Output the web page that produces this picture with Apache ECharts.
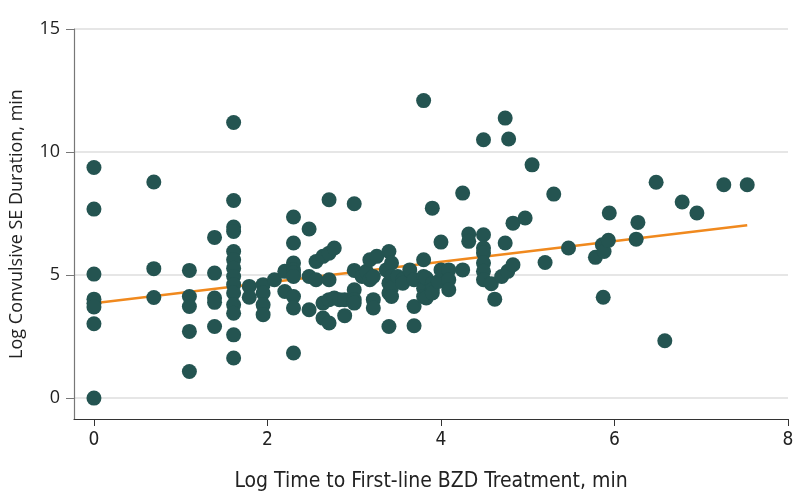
<!DOCTYPE html>
<html>
<head>
<meta charset="utf-8">
<script src="https://cdn.jsdelivr.net/npm/echarts@6/dist/echarts.min.js"></script>
<style>
  html, body { margin: 0; padding: 0; background: #ffffff; }
  #chart { width: 798px; height: 504px; }
</style>
</head>
<body>
<div id="chart"></div>
<script>
// Log time to first-line BZD treatment (x columns) and the log convulsive SE durations seen at each
const timeColumns = [0, 0.69, 1.10, 1.39, 1.61, 1.79, 1.95, 2.08, 2.20, 2.30, 2.48, 2.56, 2.64, 2.71, 2.77, 2.83, 2.89, 3.00, 3.09, 3.14, 3.18, 3.22, 3.26, 3.37, 3.40, 3.43, 3.50, 3.56, 3.64, 3.69, 3.80, 3.83, 3.90, 3.97, 4.00, 4.09, 4.25, 4.32, 4.49, 4.58, 4.62, 4.70, 4.74, 4.77, 4.78, 4.83, 4.97, 5.05, 5.20, 5.30, 5.47, 5.78, 5.86, 5.87, 5.88, 5.93, 5.94, 6.25, 6.27, 6.48, 6.58, 6.78, 6.95, 7.26, 7.53];
const durationsByColumn = [
  [9.37, 7.68, 5.04, 4.02, 3.85, 3.70, 3.02, 0],
  [8.78, 5.26, 4.09],
  [5.19, 4.13, 3.72, 2.71, 1.08],
  [6.53, 5.08, 4.07, 3.89, 2.91],
  [11.2, 8.03, 6.95, 6.77, 5.96, 5.62, 5.28, 4.94, 4.61, 4.27, 3.79, 3.45, 2.57, 1.63],
  [4.54, 4.10],
  [4.61, 4.27, 3.79, 3.39],
  [4.81],
  [5.15, 4.33],
  [7.36, 6.30, 5.49, 5.21, 5.08, 4.94, 4.13, 3.66, 1.83],
  [6.87, 4.94, 3.59],
  [5.55, 4.81],
  [5.76, 3.86, 3.25],
  [8.06, 5.89, 4.81, 4.00, 3.05],
  [6.10, 4.07],
  [4.00],
  [4.00, 3.35],
  [7.90, 5.19, 4.40, 4.00, 3.86],
  [4.94],
  [5.15],
  [5.62, 4.81],
  [4.94, 4.00, 3.66],
  [5.76],
  [5.21],
  [5.96, 4.67, 4.27, 2.91],
  [5.49, 4.94, 4.47, 4.13],
  [4.94],
  [4.81, 4.67],
  [5.21],
  [4.81, 3.72, 2.94],
  [12.09, 5.62, 4.94, 4.46, 4.13],
  [4.88, 4.07],
  [7.72, 4.67, 4.40, 4.27],
  [4.74],
  [6.34, 5.21],
  [5.21, 4.81, 4.40],
  [8.33, 5.21],
  [6.67, 6.37],
  [10.50, 6.64, 6.10, 5.90, 5.49, 5.15, 4.81],
  [4.65],
  [4.02],
  [4.94],
  [11.38, 6.30],
  [5.15],
  [10.53],
  [7.11, 5.42],
  [7.32],
  [9.48],
  [5.51],
  [8.29],
  [6.10],
  [5.72],
  [6.23],
  [4.10],
  [5.96],
  [6.41],
  [7.52],
  [6.46],
  [7.14],
  [8.77],
  [2.33],
  [7.97],
  [7.52],
  [8.67],
  [8.67]
];
// Fitted regression line end points
const trendX = [0, 7.53];
const trendY = [3.85, 7.02];
// Tick labels
const xTicks = [0, 2, 4, 6, 8];
const yTicks = [0, 5, 10, 15];

const points = [];
timeColumns.forEach((t, i) => {
  durationsByColumn[i].forEach(d => points.push([t, d]));
});
const trendData = trendX.map((x, i) => [x, trendY[i]]);

const chart = echarts.init(document.getElementById('chart'), null, { renderer: 'canvas' });
const condensed = "'Liberation Sans Narrow', 'DejaVu Sans Condensed', 'Roboto', sans-serif";
const regular = "'Open Sans', 'Noto Sans', sans-serif";

chart.setOption({
  animation: false,
  backgroundColor: '#ffffff',
  grid: { left: 70, right: 10, top: 29, bottom: 85, containLabel: false },
  xAxis: {
    type: 'value',
    min: -0.23,
    max: 8,
    name: 'Log Time to First-line BZD Treatment, min',
    nameLocation: 'middle',
    nameGap: 52,
    nameTextStyle: { fontFamily: condensed, fontSize: 21, color: '#222' },
    axisLine: { show: true, onZero: false, lineStyle: { color: '#333', width: 1.2 } },
    axisTick: { show: true, customValues: xTicks, length: 7, lineStyle: { color: '#333' } },
    axisLabel: { customValues: xTicks, fontFamily: condensed, fontSize: 19, color: '#222', margin: 12 },
    splitLine: { show: false }
  },
  yAxis: {
    type: 'value',
    min: -0.85,
    max: 15,
    name: 'Log Convulsive SE Duration, min',
    nameLocation: 'middle',
    nameRotate: 90,
    nameGap: 48,
    nameTextStyle: { fontFamily: regular, fontSize: 18, color: '#222' },
    axisLine: { show: true, onZero: false, lineStyle: { color: '#777', width: 1.2 } },
    axisTick: { show: true, customValues: yTicks, length: 8, lineStyle: { color: '#777' } },
    axisLabel: { customValues: yTicks, fontFamily: regular, fontSize: 18, color: '#222', margin: 14 },
    splitLine: { show: true, lineStyle: { color: '#dedede', width: 1.5 } }
  },
  series: [
    {
      type: 'line',
      data: trendData,
      showSymbol: false,
      symbol: 'none',
      lineStyle: { color: '#F0891E', width: 2.5 },
      z: 1,
      silent: true
    },
    {
      type: 'scatter',
      data: points,
      symbol: 'circle',
      symbolSize: 15,
      itemStyle: { color: '#245451', opacity: 1 },
      z: 2
    }
  ]
});
</script>
</body>
</html>
